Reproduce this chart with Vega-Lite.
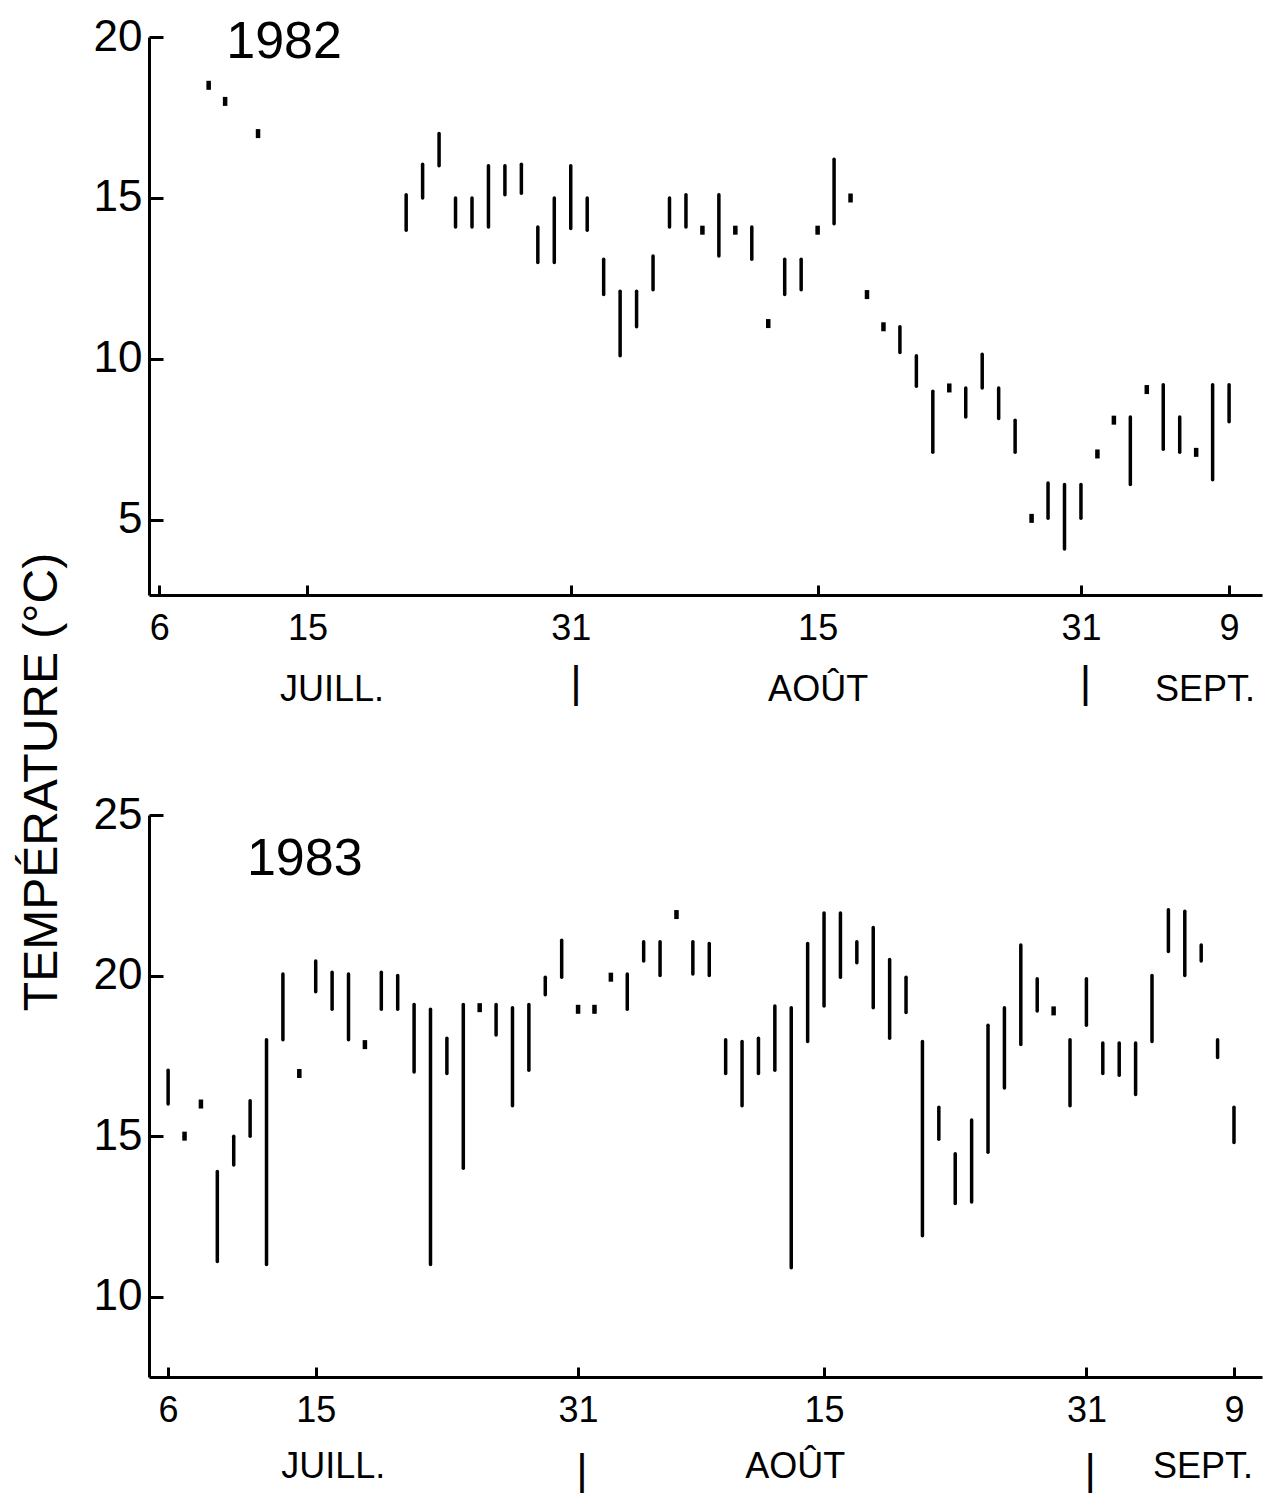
{
  "$schema": "https://vega.github.io/schema/vega-lite/v6.json",
  "padding": {"left": 19, "top": 15, "right": 4, "bottom": 0},
  "background": "white",
  "title": {"text": "TEMPÉRATURE (°C)", "orient": "left", "anchor": "middle", "fontSize": 48, "font": "Liberation Sans", "fontWeight": "normal", "color": "black", "offset": 26, "dx": -28},
  "config": {
    "view": {"stroke": null},
    "font": "Liberation Sans",
    "axis": {"domainColor": "black", "tickColor": "black", "labelColor": "black", "domainWidth": 3, "tickWidth": 3, "grid": false, "labelFont": "Liberation Sans", "labelFontWeight": "normal"}
  },
  "datasets": {
    "y1982": [
      {"date": "1982-07-09", "low": 18.5, "high": 18.5},
      {"date": "1982-07-10", "low": 18.0, "high": 18.0},
      {"date": "1982-07-12", "low": 17.0, "high": 17.0},
      {"date": "1982-07-21", "low": 14.0, "high": 15.1},
      {"date": "1982-07-22", "low": 15.0, "high": 16.05},
      {"date": "1982-07-23", "low": 16.0, "high": 17.0},
      {"date": "1982-07-24", "low": 14.1, "high": 15.0},
      {"date": "1982-07-25", "low": 14.1, "high": 15.0},
      {"date": "1982-07-26", "low": 14.1, "high": 16.0},
      {"date": "1982-07-27", "low": 15.1, "high": 16.0},
      {"date": "1982-07-28", "low": 15.15, "high": 16.05},
      {"date": "1982-07-29", "low": 13.0, "high": 14.1},
      {"date": "1982-07-30", "low": 13.0, "high": 15.0},
      {"date": "1982-07-31", "low": 14.05, "high": 16.0},
      {"date": "1982-08-01", "low": 14.0, "high": 15.0},
      {"date": "1982-08-02", "low": 12.0, "high": 13.1},
      {"date": "1982-08-03", "low": 10.1, "high": 12.1},
      {"date": "1982-08-04", "low": 11.0, "high": 12.1},
      {"date": "1982-08-05", "low": 12.15, "high": 13.2},
      {"date": "1982-08-06", "low": 14.1, "high": 15.0},
      {"date": "1982-08-07", "low": 14.1, "high": 15.1},
      {"date": "1982-08-08", "low": 14.0, "high": 14.0},
      {"date": "1982-08-09", "low": 13.2, "high": 15.1},
      {"date": "1982-08-10", "low": 14.0, "high": 14.0},
      {"date": "1982-08-11", "low": 13.1, "high": 14.1},
      {"date": "1982-08-12", "low": 11.1, "high": 11.1},
      {"date": "1982-08-13", "low": 12.0, "high": 13.1},
      {"date": "1982-08-14", "low": 12.15, "high": 13.1},
      {"date": "1982-08-15", "low": 14.0, "high": 14.0},
      {"date": "1982-08-16", "low": 14.2, "high": 16.2},
      {"date": "1982-08-17", "low": 15.0, "high": 15.0},
      {"date": "1982-08-18", "low": 12.0, "high": 12.0},
      {"date": "1982-08-19", "low": 11.0, "high": 11.0},
      {"date": "1982-08-20", "low": 10.2, "high": 11.0},
      {"date": "1982-08-21", "low": 9.15, "high": 10.1},
      {"date": "1982-08-22", "low": 7.1, "high": 9.0},
      {"date": "1982-08-23", "low": 9.1, "high": 9.1},
      {"date": "1982-08-24", "low": 8.2, "high": 9.1},
      {"date": "1982-08-25", "low": 9.1, "high": 10.15},
      {"date": "1982-08-26", "low": 8.15, "high": 9.1},
      {"date": "1982-08-27", "low": 7.1, "high": 8.1},
      {"date": "1982-08-28", "low": 5.05, "high": 5.05},
      {"date": "1982-08-29", "low": 5.05, "high": 6.15},
      {"date": "1982-08-30", "low": 4.1, "high": 6.1},
      {"date": "1982-08-31", "low": 5.05, "high": 6.1},
      {"date": "1982-09-01", "low": 7.05, "high": 7.05},
      {"date": "1982-09-02", "low": 8.1, "high": 8.1},
      {"date": "1982-09-03", "low": 6.1, "high": 8.2},
      {"date": "1982-09-04", "low": 9.05, "high": 9.05},
      {"date": "1982-09-05", "low": 7.2, "high": 9.2},
      {"date": "1982-09-06", "low": 7.1, "high": 8.2},
      {"date": "1982-09-07", "low": 7.1, "high": 7.1},
      {"date": "1982-09-08", "low": 6.25, "high": 9.2},
      {"date": "1982-09-09", "low": 8.05, "high": 9.2}
    ],
    "y1983": [
      {"date": "1983-07-06", "low": 16.0, "high": 17.05},
      {"date": "1983-07-07", "low": 15.0, "high": 15.0},
      {"date": "1983-07-08", "low": 16.0, "high": 16.0},
      {"date": "1983-07-09", "low": 11.1, "high": 13.9},
      {"date": "1983-07-10", "low": 14.1, "high": 15.0},
      {"date": "1983-07-11", "low": 15.0, "high": 16.1},
      {"date": "1983-07-12", "low": 11.0, "high": 18.0},
      {"date": "1983-07-13", "low": 18.0, "high": 20.05},
      {"date": "1983-07-14", "low": 16.95, "high": 16.95},
      {"date": "1983-07-15", "low": 19.5, "high": 20.45},
      {"date": "1983-07-16", "low": 18.95, "high": 20.1},
      {"date": "1983-07-17", "low": 18.0, "high": 20.05},
      {"date": "1983-07-18", "low": 17.85, "high": 17.85},
      {"date": "1983-07-19", "low": 18.95, "high": 20.1},
      {"date": "1983-07-20", "low": 18.95, "high": 20.0},
      {"date": "1983-07-21", "low": 17.0, "high": 19.1},
      {"date": "1983-07-22", "low": 11.0, "high": 18.95},
      {"date": "1983-07-23", "low": 16.95, "high": 18.05},
      {"date": "1983-07-24", "low": 14.0, "high": 19.1},
      {"date": "1983-07-25", "low": 19.0, "high": 19.0},
      {"date": "1983-07-26", "low": 18.15, "high": 19.1},
      {"date": "1983-07-27", "low": 15.95, "high": 19.0},
      {"date": "1983-07-28", "low": 17.05, "high": 19.1},
      {"date": "1983-07-29", "low": 19.4, "high": 19.95},
      {"date": "1983-07-30", "low": 19.95, "high": 21.1},
      {"date": "1983-07-31", "low": 18.95, "high": 18.95},
      {"date": "1983-08-01", "low": 18.95, "high": 18.95},
      {"date": "1983-08-02", "low": 19.95, "high": 19.95},
      {"date": "1983-08-03", "low": 18.95, "high": 20.05},
      {"date": "1983-08-04", "low": 20.45, "high": 21.05},
      {"date": "1983-08-05", "low": 20.0, "high": 21.05},
      {"date": "1983-08-06", "low": 21.9, "high": 21.9},
      {"date": "1983-08-07", "low": 20.05, "high": 21.05},
      {"date": "1983-08-08", "low": 20.0, "high": 21.0},
      {"date": "1983-08-09", "low": 16.95, "high": 18.0},
      {"date": "1983-08-10", "low": 15.95, "high": 17.95},
      {"date": "1983-08-11", "low": 16.95, "high": 18.05},
      {"date": "1983-08-12", "low": 17.05, "high": 19.05},
      {"date": "1983-08-13", "low": 10.9, "high": 19.0},
      {"date": "1983-08-14", "low": 17.95, "high": 21.0},
      {"date": "1983-08-15", "low": 19.05, "high": 21.95},
      {"date": "1983-08-16", "low": 19.95, "high": 21.95},
      {"date": "1983-08-17", "low": 20.4, "high": 21.05},
      {"date": "1983-08-18", "low": 19.0, "high": 21.5},
      {"date": "1983-08-19", "low": 18.05, "high": 20.5},
      {"date": "1983-08-20", "low": 18.85, "high": 19.95},
      {"date": "1983-08-21", "low": 11.9, "high": 17.95},
      {"date": "1983-08-22", "low": 14.9, "high": 15.9},
      {"date": "1983-08-23", "low": 12.9, "high": 14.45},
      {"date": "1983-08-24", "low": 12.95, "high": 15.5},
      {"date": "1983-08-25", "low": 14.5, "high": 18.45},
      {"date": "1983-08-26", "low": 16.5, "high": 19.0},
      {"date": "1983-08-27", "low": 17.85, "high": 20.95},
      {"date": "1983-08-28", "low": 18.9, "high": 19.9},
      {"date": "1983-08-29", "low": 18.9, "high": 18.9},
      {"date": "1983-08-30", "low": 15.95, "high": 18.0},
      {"date": "1983-08-31", "low": 18.45, "high": 19.9},
      {"date": "1983-09-01", "low": 16.95, "high": 17.9},
      {"date": "1983-09-02", "low": 16.9, "high": 17.9},
      {"date": "1983-09-03", "low": 16.3, "high": 17.9},
      {"date": "1983-09-04", "low": 17.95, "high": 20.0},
      {"date": "1983-09-05", "low": 20.75, "high": 22.05},
      {"date": "1983-09-06", "low": 20.0, "high": 22.0},
      {"date": "1983-09-07", "low": 20.45, "high": 20.95},
      {"date": "1983-09-08", "low": 17.45, "high": 18.0},
      {"date": "1983-09-09", "low": 14.8, "high": 15.9}
    ]
  },
  "spacing": 86,
  "vconcat": [
    {
      "width": 1113,
      "height": 558,
      "resolve": {"axis": {"x": "independent"}},
      "layer": [
        {
          "layer": [
            {
              "data": {"name": "y1982"},
              "mark": {"type": "rule", "color": "black", "strokeWidth": 3.5, "strokeCap": "round"},
              "encoding": {
                "x": {
                  "field": "date", "type": "temporal",
                  "scale": {"type": "utc", "domain": [{"year": 1982, "month": 7, "date": 5, "hours": 9, "utc": true}, {"year": 1982, "month": 9, "date": 11, "hours": 0, "utc": true}]},
                  "axis": {
                    "title": null, "orient": "bottom",
                    "values": [{"year": 1982, "month": 7, "date": 6, "utc": true}, {"year": 1982, "month": 7, "date": 15, "utc": true}, {"year": 1982, "month": 7, "date": 31, "utc": true}, {"year": 1982, "month": 8, "date": 15, "utc": true}, {"year": 1982, "month": 8, "date": 31, "utc": true}, {"year": 1982, "month": 9, "date": 9, "utc": true}],
                    "labelExpr": "'' + utcdate(datum.value)",
                    "tickSize": -10, "labelPadding": 26, "labelFontSize": 36, "labelFlush": false, "labelOverlap": false
                  }
                },
                "y": {
                  "field": "low", "type": "quantitative",
                  "scale": {"domain": [2.67, 20], "nice": false, "zero": false},
                  "axis": {"title": null, "values": [5, 10, 15, 20], "tickSize": -14, "labelPadding": 21, "labelFontSize": 44}
                },
                "y2": {"field": "high"}
              }
            },
            {
              "data": {"name": "y1982"},
              "transform": [{"filter": "datum.low == datum.high"}],
              "mark": {"type": "tick", "orient": "vertical", "color": "black", "opacity": 1, "thickness": 4.5, "size": 9},
              "encoding": {
                "x": {"field": "date", "type": "temporal"},
                "y": {"field": "low", "type": "quantitative"}
              }
            },
            {
              "data": {"values": [{"label": "1982", "date": "1982-07-13T14:00:00Z", "temp": 19.85}]},
              "mark": {"type": "text", "fontSize": 52, "font": "Liberation Sans", "color": "black", "baseline": "middle", "align": "center"},
              "encoding": {
                "x": {"field": "date", "type": "temporal"},
                "y": {"field": "temp", "type": "quantitative"},
                "text": {"field": "label"}
              }
            }
          ]
        },
        {
          "data": {"values": [
            {"mois": "JUILL.", "date": "1982-07-16T11:00:00Z"},
            {"mois": "|", "date": "1982-07-31T07:00:00Z"},
            {"mois": "AOÛT", "date": "1982-08-15T00:00:00Z"},
            {"mois": "|", "date": "1982-08-31T06:00:00Z"},
            {"mois": "SEPT.", "date": "1982-09-07T12:00:00Z"}
          ]},
          "mark": {"type": "rule", "opacity": 0},
          "encoding": {
            "x": {
              "field": "date", "type": "temporal",
              "axis": {
                "title": null, "orient": "bottom", "offset": 77, "domain": false, "ticks": false,
                "labelPadding": {"condition": {"test": "utcdate(datum.value) == 31", "value": -11}, "value": 0},
                "values": [{"year": 1982, "month": 7, "date": 16, "hours": 11, "utc": true}, {"year": 1982, "month": 7, "date": 31, "hours": 7, "utc": true}, {"year": 1982, "month": 8, "date": 15, "hours": 0, "utc": true}, {"year": 1982, "month": 8, "date": 31, "hours": 6, "utc": true}, {"year": 1982, "month": 9, "date": 7, "hours": 12, "utc": true}],
                "labelExpr": "utcdate(datum.value) == 31 ? '|' : utcmonth(datum.value) == 6 ? 'JUILL.' : utcmonth(datum.value) == 7 ? 'AOÛT' : 'SEPT.'",
                "labelFontSize": {"condition": {"test": "utcdate(datum.value) == 31", "value": 44}, "value": 36},
                "labelFlush": false, "labelOverlap": false
              }
            }
          }
        }
      ]
    },
    {
      "width": 1113,
      "height": 562,
      "resolve": {"axis": {"x": "independent"}},
      "layer": [
        {
          "layer": [
            {
              "data": {"name": "y1983"},
              "mark": {"type": "rule", "color": "black", "strokeWidth": 3.5, "strokeCap": "round"},
              "encoding": {
                "x": {
                  "field": "date", "type": "temporal",
                  "scale": {"type": "utc", "domain": [{"year": 1983, "month": 7, "date": 4, "hours": 20, "utc": true}, {"year": 1983, "month": 9, "date": 10, "hours": 17, "utc": true}]},
                  "axis": {
                    "title": null, "orient": "bottom",
                    "values": [{"year": 1983, "month": 7, "date": 6, "utc": true}, {"year": 1983, "month": 7, "date": 15, "utc": true}, {"year": 1983, "month": 7, "date": 31, "utc": true}, {"year": 1983, "month": 8, "date": 15, "utc": true}, {"year": 1983, "month": 8, "date": 31, "utc": true}, {"year": 1983, "month": 9, "date": 9, "utc": true}],
                    "labelExpr": "'' + utcdate(datum.value)",
                    "tickSize": -10, "labelPadding": 26, "labelFontSize": 36, "labelFlush": false, "labelOverlap": false
                  }
                },
                "y": {
                  "field": "low", "type": "quantitative",
                  "scale": {"domain": [7.5, 25], "nice": false, "zero": false},
                  "axis": {"title": null, "values": [10, 15, 20, 25], "tickSize": -14, "labelPadding": 21, "labelFontSize": 44}
                },
                "y2": {"field": "high"}
              }
            },
            {
              "data": {"name": "y1983"},
              "transform": [{"filter": "datum.low == datum.high"}],
              "mark": {"type": "tick", "orient": "vertical", "color": "black", "opacity": 1, "thickness": 4.5, "size": 9},
              "encoding": {
                "x": {"field": "date", "type": "temporal"},
                "y": {"field": "low", "type": "quantitative"}
              }
            },
            {
              "data": {"values": [{"label": "1983", "date": "1983-07-14T08:00:00Z", "temp": 23.63}]},
              "mark": {"type": "text", "fontSize": 52, "font": "Liberation Sans", "color": "black", "baseline": "middle", "align": "center"},
              "encoding": {
                "x": {"field": "date", "type": "temporal"},
                "y": {"field": "temp", "type": "quantitative"},
                "text": {"field": "label"}
              }
            }
          ]
        },
        {
          "data": {"values": [
            {"mois": "JUILL.", "date": "1983-07-16T01:00:00Z"},
            {"mois": "|", "date": "1983-07-31T05:00:00Z"},
            {"mois": "AOÛT", "date": "1983-08-13T05:00:00Z"},
            {"mois": "|", "date": "1983-08-31T05:00:00Z"},
            {"mois": "SEPT.", "date": "1983-09-07T02:00:00Z"}
          ]},
          "mark": {"type": "rule", "opacity": 0},
          "encoding": {
            "x": {
              "field": "date", "type": "temporal",
              "axis": {
                "title": null, "orient": "bottom", "offset": 72, "domain": false, "ticks": false, "labelPadding": 0,
                "values": [{"year": 1983, "month": 7, "date": 16, "hours": 1, "utc": true}, {"year": 1983, "month": 7, "date": 31, "hours": 5, "utc": true}, {"year": 1983, "month": 8, "date": 13, "hours": 5, "utc": true}, {"year": 1983, "month": 8, "date": 31, "hours": 5, "utc": true}, {"year": 1983, "month": 9, "date": 7, "hours": 2, "utc": true}],
                "labelExpr": "utcdate(datum.value) == 31 ? '|' : utcmonth(datum.value) == 6 ? 'JUILL.' : utcmonth(datum.value) == 7 ? 'AOÛT' : 'SEPT.'",
                "labelFontSize": {"condition": {"test": "utcdate(datum.value) == 31", "value": 44}, "value": 36},
                "labelFlush": false, "labelOverlap": false
              }
            }
          }
        }
      ]
    }
  ]
}
